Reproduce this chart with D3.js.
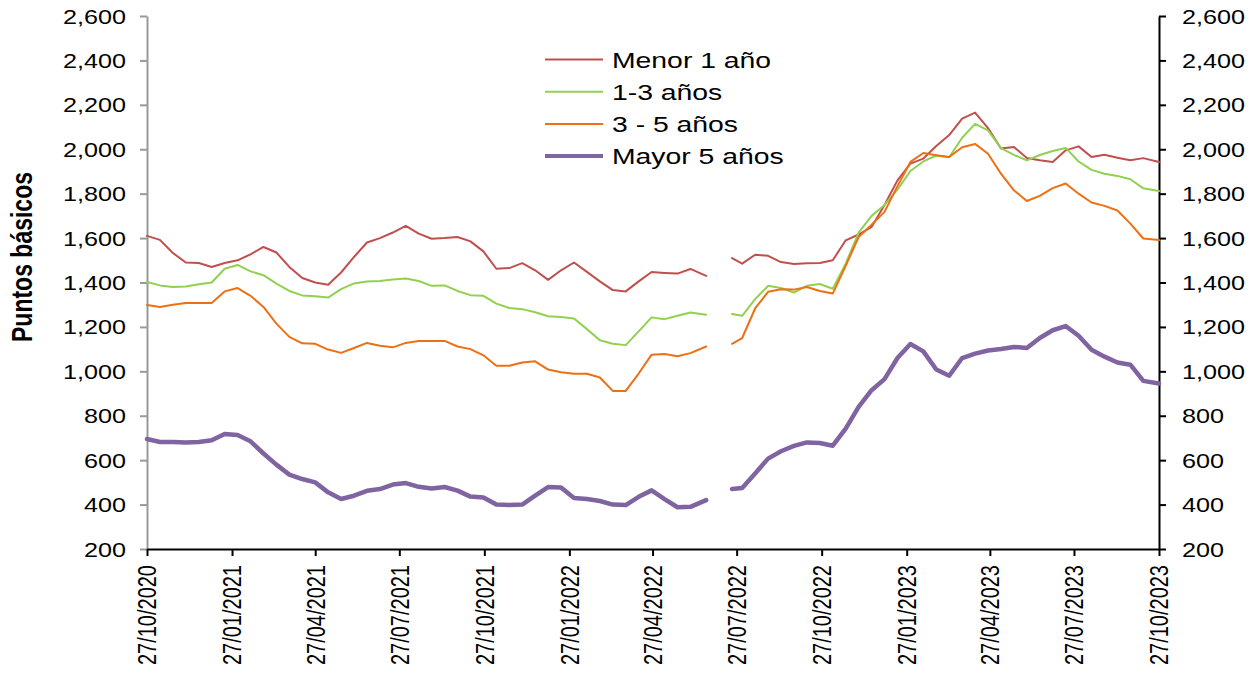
<!DOCTYPE html>
<html><head><meta charset="utf-8">
<script src="https://cdn.jsdelivr.net/npm/d3@7/dist/d3.min.js"></script>
<style>body{margin:0;background:#fff}svg{display:block}</style>
</head><body><svg id="c" width="1255" height="673"></svg>
<script>
const dates = ["2020-10-27","2020-11-10","2020-11-24","2020-12-08","2020-12-22","2021-01-05","2021-01-19","2021-02-02","2021-02-16","2021-03-02","2021-03-16","2021-03-30","2021-04-13","2021-04-27","2021-05-11","2021-05-25","2021-06-08","2021-06-22","2021-07-06","2021-07-20","2021-08-03","2021-08-17","2021-08-31","2021-09-14","2021-09-28","2021-10-12","2021-10-26","2021-11-09","2021-11-23","2021-12-07","2021-12-21","2022-01-04","2022-01-18","2022-02-01","2022-02-15","2022-03-01","2022-03-15","2022-03-29","2022-04-12","2022-04-26","2022-05-10","2022-05-24","2022-06-07","2022-06-24","2022-07-05","2022-07-22","2022-08-02","2022-08-16","2022-08-30","2022-09-13","2022-09-27","2022-10-11","2022-10-25","2022-11-08","2022-11-22","2022-12-06","2022-12-20","2023-01-03","2023-01-17","2023-01-31","2023-02-14","2023-02-28","2023-03-14","2023-03-28","2023-04-11","2023-04-25","2023-05-09","2023-05-23","2023-06-06","2023-06-20","2023-07-04","2023-07-18","2023-08-01","2023-08-15","2023-08-29","2023-09-12","2023-09-26","2023-10-10","2023-10-27"];
const menor1 = [1610,1592,1533,1490,1488,1470,1488,1500,1527,1560,1535,1470,1420,1400,1390,1445,1515,1580,1600,1625,1655,1620,1597,1600,1605,1585,1540,1462,1465,1487,1455,1412,1455,1490,1448,1405,1366,1360,1405,1447,1443,1440,1461,1430,null,1510,1485,1525,1520,1492,1483,1487,1488,1500,1590,1616,1650,1749,1860,1935,1958,2015,2064,2138,2165,2095,2003,2010,1961,1950,1943,1995,2013,1965,1975,1962,1950,1960,1943];
const de1a3 = [1402,1387,1380,1382,1392,1400,1462,1479,1450,1433,1395,1362,1342,1338,1332,1370,1396,1405,1407,1414,1418,1407,1385,1387,1362,1343,1340,1305,1285,1280,1266,1248,1245,1238,1190,1140,1124,1118,1180,1243,1235,1250,1265,1255,null,1258,1250,1325,1385,1375,1355,1385,1393,1372,1485,1625,1700,1749,1818,1902,1945,1972,1964,2052,2114,2085,2005,1975,1950,1974,1992,2006,1945,1907,1890,1880,1865,1824,1812];
const de3a5 = [1299,1290,1300,1308,1308,1308,1360,1375,1340,1290,1215,1155,1126,1124,1098,1083,1105,1128,1115,1108,1128,1137,1137,1137,1112,1100,1072,1025,1025,1040,1045,1008,996,989,989,972,912,912,990,1075,1078,1068,1082,1112,null,1124,1150,1283,1358,1370,1368,1380,1362,1350,1475,1605,1660,1718,1834,1943,1983,1973,1965,2009,2024,1980,1890,1815,1767,1790,1825,1846,1800,1760,1745,1724,1665,1598,1591];
const mayor5 = [695,682,682,680,682,690,718,713,685,630,580,535,515,500,455,425,440,462,470,490,497,480,472,479,463,436,432,400,398,400,440,479,477,430,425,416,400,398,435,464,425,388,390,420,null,470,475,540,607,640,664,680,677,665,742,840,915,965,1060,1123,1090,1008,980,1060,1080,1094,1101,1110,1105,1150,1185,1204,1160,1097,1066,1040,1030,957,945];
const seriesNames = ["Menor 1 año","1-3 años","3 - 5 años","Mayor 5 años"];
const seriesColors = ["#C0504D","#92D050","#ED7014","#8064A2"];
const seriesWidths = [2,2,2,4.5];
const yTicks = [200,400,600,800,1000,1200,1400,1600,1800,2000,2200,2400,2600];
const xTickLabels = ["27/10/2020","27/01/2021","27/04/2021","27/07/2021","27/10/2021","27/01/2022","27/04/2022","27/07/2022","27/10/2022","27/01/2023","27/04/2023","27/07/2023","27/10/2023"];

const SX = 1.26;
const svg = d3.select("#c");
const parse = d3.timeParse("%Y-%m-%d");
const parseTick = d3.timeParse("%d/%m/%Y");
const L = 147, R = 1159, T = 16, B = 549;
const x = d3.scaleTime().domain([parse("2020-10-27"), parse("2023-10-27")]).range([L, R]);
const y = d3.scaleLinear().domain([200, 2600]).range([B, T]);
const fmt = d3.format(",");

// left axis (gray)
const gl = svg.append("g").attr("transform", `translate(${L},0)`)
  .call(d3.axisLeft(y).tickValues(yTicks).tickSize(7).tickSizeOuter(0).tickFormat(fmt));
gl.select(".domain").attr("stroke", "#999").attr("stroke-width", 2);
gl.selectAll(".tick line").attr("stroke", "#999").attr("stroke-width", 2);
gl.selectAll(".tick text").attr("x", 0).attr("dy", "0.35em")
  .attr("transform", `translate(-21,0) scale(${SX},1)`)
  .attr("font-family", "Liberation Sans, Arial, sans-serif").attr("font-size", 20).attr("fill", "#000");

// right axis (black)
const gr = svg.append("g").attr("transform", `translate(${R},0)`)
  .call(d3.axisRight(y).tickValues(yTicks).tickSize(7).tickSizeOuter(0).tickFormat(fmt));
gr.select(".domain").attr("stroke", "#000").attr("stroke-width", 2);
gr.selectAll(".tick line").attr("stroke", "#000").attr("stroke-width", 2);
gr.selectAll(".tick text").attr("x", 0).attr("dy", "0.35em")
  .attr("transform", `translate(23,0) scale(${SX},1)`)
  .attr("font-family", "Liberation Sans, Arial, sans-serif").attr("font-size", 20).attr("fill", "#000");

// bottom axis
const gb = svg.append("g").attr("transform", `translate(0,${B})`)
  .call(d3.axisBottom(x).tickValues(xTickLabels.map(parseTick)).tickSize(7).tickSizeOuter(0)
    .tickFormat(d3.timeFormat("%d/%m/%Y")));
gb.select(".domain").attr("stroke", "#000").attr("stroke-width", 2);
gb.selectAll(".tick line").attr("stroke", "#000").attr("stroke-width", 2);
gb.selectAll(".tick text").attr("x", 0).attr("y", 0).attr("dy", "0.35em")
  .attr("text-anchor", "end")
  .attr("transform", `translate(0,16) scale(${SX},1) rotate(-90)`)
  .attr("font-family", "Liberation Sans, Arial, sans-serif").attr("font-size", 20).attr("fill", "#000");
svg.selectAll(".domain").attr("fill", "none");

// axis title
svg.append("text").attr("transform", `translate(22,257) scale(${SX},1) rotate(-90)`)
  .attr("text-anchor", "middle").attr("dy", "0.35em")
  .attr("font-family", "Liberation Sans, Arial, sans-serif").attr("font-weight", "bold")
  .attr("font-size", 23).text("Puntos básicos");

// lines
const all = [menor1, de1a3, de3a5, mayor5];
const line = d3.line().defined(d => d.v != null).x(d => x(d.d)).y(d => y(d.v));
all.forEach((vals, k) => {
  const pts = dates.map((s, i) => ({d: parse(s), v: vals[i]}));
  svg.append("path").datum(pts).attr("d", line).attr("fill", "none")
    .attr("stroke", seriesColors[k]).attr("stroke-width", seriesWidths[k])
    .attr("stroke-linejoin", "round").attr("stroke-linecap", "round");
});

// legend
const lg = svg.append("g");
seriesNames.forEach((n, k) => {
  const yy = 59.5 + k * 32.2;
  lg.append("line").attr("x1", 545).attr("x2", 603).attr("y1", yy).attr("y2", yy)
    .attr("stroke", seriesColors[k]).attr("stroke-width", k === 3 ? 4 : 2);
  lg.append("text").attr("transform", `translate(612,${yy}) scale(${SX},1)`)
    .attr("dy", "0.36em").attr("font-family", "Liberation Sans, Arial, sans-serif")
    .attr("font-size", 22.5).attr("fill", "#000").text(n);
});
</script></body></html>
